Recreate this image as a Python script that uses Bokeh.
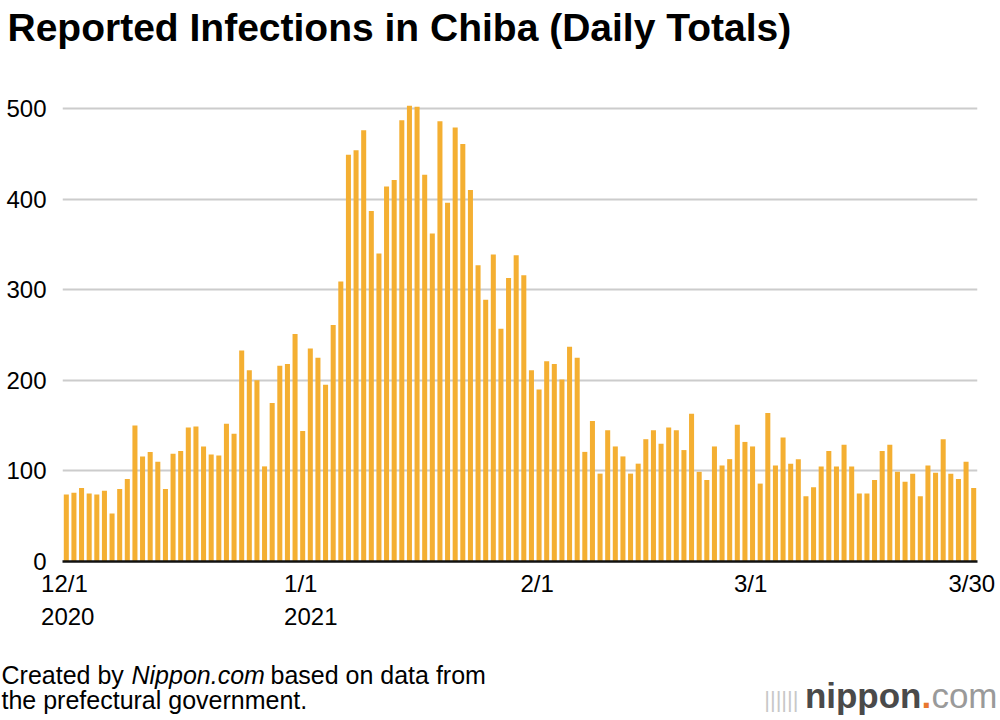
import datetime as dt
from bokeh.plotting import figure
from bokeh.layouts import column
from bokeh.models import ColumnDataSource, FixedTicker, Range1d
from bokeh.core.properties import value
from bokeh.embed import file_html
from bokeh.resources import INLINE

# ---------------- data ----------------
start_date = dt.date(2020, 12, 1)
daily_cases = [
    74, 76, 81, 75, 74, 78, 53, 80, 91, 150,
    116, 121, 110, 80, 119, 122, 148, 149, 127, 118,
    117, 152, 141, 233, 211, 200, 105, 175, 216, 218,
    251, 144, 235, 225, 195, 261, 309, 449, 454, 476,
    387, 340, 414, 421, 487, 503, 502, 427, 362, 486,
    396, 479, 461, 410, 327, 289, 339, 257, 313, 338,
    316, 211, 190, 221, 218, 201, 237, 225, 121, 155,
    97, 145, 127, 116, 97, 108, 135, 145, 130, 148,
    145, 123, 163, 99, 90, 127, 106, 113, 151, 132,
    127, 86, 164, 106, 137, 108, 113, 72, 82, 105,
    122, 105, 129, 105, 75, 75, 90, 122, 129, 99,
    88, 97, 72, 106, 98, 135, 97, 91, 110, 81,
]
tick_dates = [dt.date(2020, 12, 1), dt.date(2021, 1, 1), dt.date(2021, 2, 1),
              dt.date(2021, 3, 1), dt.date(2021, 3, 30)]
tick_labels = ["12/1", "1/1", "2/1", "3/1", "3/30"]
year_labels = ["2020", "2021"]          # shown under the first two tick labels
y_ticks = [0, 100, 200, 300, 400, 500]

title_text = "Reported Infections in Chiba (Daily Totals)"
source_parts = ["Created by", "Nippon.com", "based on data from"]
source_styles = ["normal", "italic", "normal"]
source_line2 = "the prefectural government."
logo_parts = ["nippon", ".", "com"]

# ---------------- styling / layout ----------------
BAR = "#F4AF32"
GRID = "#CCCCCC"
FONT = "Liberation Sans"
W = 1000
HEAD_H, MAIN_H, FOOT_H = 60, 540, 120
BL, BR, BT, BB = 62, 23, 39, 39          # main frame borders
TICK_SIZE = 24
BASELINE_FIX = 0.37                      # alphabetic-baseline correction (em)


def text_fig(h):
    f = figure(width=W, height=h, x_range=Range1d(0, W), y_range=Range1d(h, 0),
               x_axis_type=None, y_axis_type=None, min_border=0,
               toolbar_location=None, output_backend="svg", frame_align=False)
    f.outline_line_color = None
    f.xgrid.visible = False
    f.ygrid.visible = False
    return f


def put(f, x, y, txt, size, style="normal", color="black", align="left"):
    f.text(x=[x], y=[y - BASELINE_FIX * size], text=[txt], text_font=value(FONT),
           text_font_size=value(f"{size}px"), text_font_style=style,
           text_color=color, text_align=align, text_baseline="alphabetic")


# ---------------- header ----------------
head = text_fig(HEAD_H)
put(head, 7, 41, title_text, 39, style="bold")

# ---------------- main chart ----------------
day_index = list(range(len(daily_cases)))
src = ColumnDataSource(dict(x=[i + 0.5 for i in day_index], cases=daily_cases))

p = figure(width=W, height=MAIN_H, output_backend="svg", toolbar_location=None,
           x_range=Range1d(0, len(daily_cases)), y_range=Range1d(0, 510),
           min_border_left=BL, min_border_right=BR, min_border_top=BT,
           min_border_bottom=BB, frame_align=False)
p.outline_line_color = None
p.vbar(x="x", top="cases", width=0.66, source=src, fill_color=BAR, line_color=None)

tick_pos = [(d - start_date).days + 0.25 for d in tick_dates]
p.xaxis.ticker = FixedTicker(ticks=tick_pos)
p.xaxis.major_label_overrides = {t: l for t, l in zip(tick_pos, tick_labels)}
p.yaxis.ticker = FixedTicker(ticks=y_ticks)
for ax in (p.xaxis, p.yaxis):
    ax.major_tick_line_color = None
    ax.minor_tick_line_color = None
    ax.major_tick_out = 0
    ax.major_tick_in = 0
    ax.major_label_text_font = FONT
    ax.major_label_text_font_size = f"{TICK_SIZE}px"
    ax.major_label_text_color = "black"
p.yaxis.axis_line_color = None
p.yaxis.major_label_standoff = 16
p.xaxis.axis_line_color = "#111111"
p.xaxis.axis_line_width = 2.5
p.xaxis.major_label_standoff = 8
p.xgrid.grid_line_color = None
p.ygrid.grid_line_color = GRID
p.ygrid.grid_line_width = 2

# ---------------- footer ----------------
foot = text_fig(FOOT_H)
px_per_day = (W - BL - BR) / len(daily_cases)


def approx_width(s, size):
    return sum((0.278 if c == "/" else 0.556) for c in s) * size


for pos, lab, yr in zip(tick_pos, tick_labels, year_labels):
    x_left = BL + pos * px_per_day - approx_width(lab, TICK_SIZE) / 2
    put(foot, x_left, 25, yr, TICK_SIZE)

for x0, part, style in zip([1, 131, 270], source_parts, source_styles):
    put(foot, x0, 84, part, 25, style=style)
put(foot, 1, 109, source_line2, 25)

put(foot, 798, 107, "||||||", 22, color="#c8c8c8", align="right")
put(foot, 921, 108, logo_parts[0], 35, style="bold", color="#4a4a4a", align="right")
put(foot, 921, 108, logo_parts[1], 35, style="bold", color="#E8772E")
put(foot, 997, 108, logo_parts[2], 35, color="#9a9a9a", align="right")

layout = column(head, p, foot, spacing=0)
open("out.html", "w").write(file_html(layout, INLINE))
